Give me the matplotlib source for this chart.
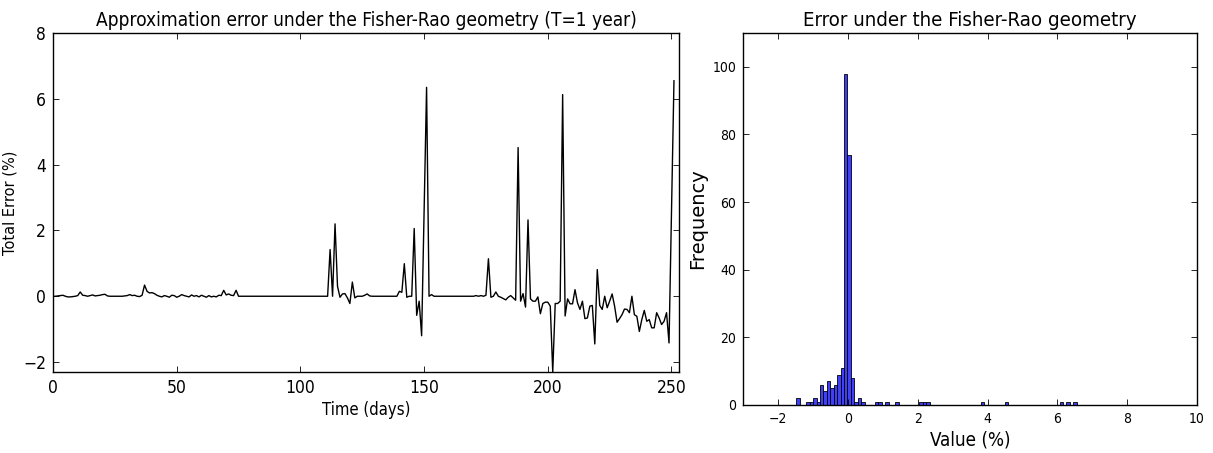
import matplotlib
matplotlib.use('Agg')
import matplotlib.pyplot as plt
import numpy as np

# Daily approximation error (%), days 0..251
days = np.arange(252)
error = [
    0.0, 0.0, 0.01, 0.02, 0.03, 0.0, -0.02, -0.02, -0.01, 0.0,
    0.02, 0.13, 0.03, 0.02, 0.0, 0.02, 0.04, 0.01, 0.02, 0.03,
    0.05, 0.06, 0.01, 0.0, 0.0, 0.0, 0.0, 0.0, 0.0, 0.01,
    0.02, 0.05, 0.02, 0.03, 0.0, -0.01, 0.03, 0.34, 0.15, 0.1,
    0.11, 0.08, 0.03, 0.0, -0.02, 0.02, 0.0, -0.03, 0.03, 0.02,
    -0.03, 0.0, 0.05, 0.02, 0.0, -0.02, 0.04, 0.0, 0.02, -0.02,
    0.03, 0.0, -0.03, 0.02, -0.02, 0.0, -0.02, 0.03, 0.02, 0.18,
    0.04, 0.07, 0.03, 0.02, 0.18, 0.0, 0.0, 0.0, 0.0, 0.0,
    0.0, 0.0, 0.0, 0.0, 0.0, 0.0, 0.0, 0.0, 0.0, 0.0,
    0.0, 0.0, 0.0, 0.0, 0.0, 0.0, 0.0, 0.0, 0.0, 0.0,
    0.0, 0.0, 0.0, 0.0, 0.0, 0.0, 0.0, 0.0, 0.0, 0.0,
    0.0, 0.0, 1.42, 0.0, 2.2, 0.3, -0.03, 0.07, 0.08, -0.05,
    -0.22, 0.43, -0.05, 0.0, 0.0, 0.0, 0.03, 0.07, 0.01, 0.0,
    0.0, 0.0, 0.0, 0.0, 0.0, 0.0, 0.0, 0.0, 0.0, 0.0,
    0.15, 0.12, 0.99, -0.03, 0.0, 0.0, 2.06, -0.58, -0.15, -1.2,
    2.6, 6.35, 0.0, 0.05, 0.0, 0.0, 0.0, 0.0, 0.0, 0.0,
    0.0, 0.0, 0.0, 0.0, 0.0, 0.0, 0.0, 0.0, 0.0, 0.0,
    0.0, 0.02, 0.0, 0.02, 0.0, 0.03, 1.14, -0.03, 0.0, 0.13,
    0.0, -0.03, -0.07, -0.11, -0.03, 0.02, -0.05, -0.12, 4.52, -0.15,
    0.08, -0.33, 2.32, -0.08, -0.15, -0.15, -0.02, -0.53, -0.22, -0.18,
    -0.18, -0.3, -2.3, -0.22, -0.22, -0.15, 6.13, -0.6, -0.08, -0.23,
    -0.23, 0.2, -0.2, -0.4, -0.15, -0.68, -0.66, -0.3, -0.28, -1.45,
    0.81, -0.28, -0.4, 0.0, -0.35, -0.15, 0.07, -0.3, -0.79, -0.68,
    -0.56, -0.39, -0.4, -0.5, 0.0, -0.56, -0.61, -1.07, -0.71, -0.43,
    -0.76, -0.71, -0.96, -0.96, -0.5, -0.66, -0.86, -0.76, -0.5, -1.42,
    2.56, 6.55,
]

# Histogram of the errors: bin left edges (%) and counts
bin_width = 0.098
bin_left = [-1.482, -1.188, -1.09, -0.992, -0.894, -0.796, -0.698, -0.6,
            -0.502, -0.404, -0.306, -0.208, -0.11, -0.012, 0.086, 0.184,
            0.282, 0.38, 0.772, 0.87, 1.066, 1.36, 2.046, 2.144, 2.242,
            3.81, 4.496, 6.064, 6.26, 6.456]
counts = [2, 1, 1, 2, 1, 6, 4, 7, 5, 6, 9, 11, 98, 74, 8, 1, 2, 1,
          1, 1, 1, 1, 1, 1, 1, 1, 1, 1, 1, 1]

# condensed look of the original
cond = dict(family='DejaVu Sans', stretch='condensed')

fig = plt.figure(figsize=(12.13, 4.53), dpi=100)

# Left: time series
ax1 = fig.add_axes([0.0437, 0.179, 0.516, 0.748])
ax1.plot(days, error, color='k', lw=1.0)
ax1.set_xlim(0, 253)
ax1.set_ylim(-2.3, 8)
ax1.set_xticks([0, 50, 100, 150, 200, 250])
ax1.set_yticks([-2, 0, 2, 4, 6, 8])
ax1.set_title('Approximation error under the Fisher-Rao geometry (T=1 year)',
              fontsize=13.7, pad=5, **cond)
ax1.set_xlabel('Time (days)', fontsize=12, labelpad=3, **cond)
ax1.set_ylabel('Total Error (%)', fontsize=10.5, labelpad=4)

# Right: histogram
ax2 = fig.add_axes([0.6126, 0.106, 0.3743, 0.821])
ax2.bar(bin_left, counts, width=bin_width, align='edge',
        color=(0.25, 0.25, 0.98), edgecolor='k', linewidth=0.6)
ax2.set_xlim(-3, 10)
ax2.set_ylim(0, 110)
ax2.set_xticks([-2, 0, 2, 4, 6, 8, 10])
ax2.set_yticks([0, 20, 40, 60, 80, 100])
ax2.set_title('Error under the Fisher-Rao geometry', fontsize=14.7, pad=5,
              **cond)
ax2.set_xlabel('Value (%)', fontsize=13.5, labelpad=3, **cond)
ax2.set_ylabel('Frequency', fontsize=14, labelpad=4)

for ax, fs in ((ax1, 12.5), (ax2, 10)):
    ax.tick_params(direction='in', top=True, right=True, length=4, width=0.6,
                   pad=5)
    for lab in ax.get_xticklabels() + ax.get_yticklabels():
        lab.set_family('DejaVu Sans')
        lab.set_stretch('condensed')
        lab.set_fontsize(fs)
    for s in ax.spines.values():
        s.set_linewidth(1.0)

fig.savefig('out.png', dpi=100)
